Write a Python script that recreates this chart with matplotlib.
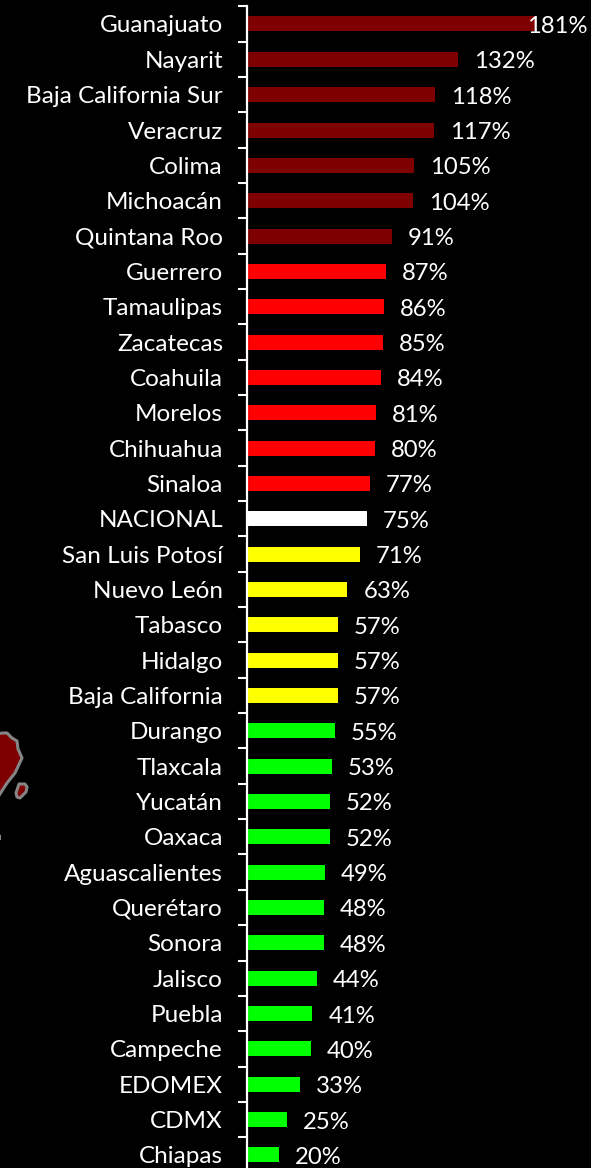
import matplotlib
matplotlib.use("Agg")
import matplotlib.pyplot as plt
from matplotlib.patches import Polygon

states = ["Guanajuato", "Nayarit", "Baja California Sur", "Veracruz", "Colima", "Michoacán",
          "Quintana Roo", "Guerrero", "Tamaulipas", "Zacatecas", "Coahuila", "Morelos",
          "Chihuahua", "Sinaloa", "NACIONAL", "San Luis Potosí", "Nuevo León", "Tabasco",
          "Hidalgo", "Baja California", "Durango", "Tlaxcala", "Yucatán", "Oaxaca",
          "Aguascalientes", "Querétaro", "Sonora", "Jalisco", "Puebla", "Campeche",
          "EDOMEX", "CDMX", "Chiapas"]
values = [181, 132, 118, 117, 105, 104, 91, 87, 86, 85, 84, 81, 80, 77, 75, 71, 63, 57, 57, 57,
          55, 53, 52, 52, 49, 48, 48, 44, 41, 40, 33, 25, 20]
groups = ["d"] * 7 + ["r"] * 7 + ["w"] + ["y"] * 5 + ["g"] * 13
palette = {"d": "#7f0000", "r": "#ff0000", "w": "#ffffff", "y": "#ffff00", "g": "#00ff00"}

W, H = 591, 1168
X0, PX_PER_PCT = 247.0, 1.595
Y0, ROW = 24.0, 35.34
FONT = 17.5
VALUE_FONT = 17.2

plt.rcParams["font.family"] = ["Lato", "DejaVu Sans"]
fig = plt.figure(figsize=(W / 100, H / 100), dpi=100, facecolor="black")

# Background map fragment, pixel coordinates
bg = fig.add_axes([0, 0, 1, 1], zorder=0)
bg.set_xlim(0, W); bg.set_ylim(H, 0); bg.axis("off")
map_main = [(-5, 734), (3, 733), (7, 733), (12, 738), (17, 741), (18, 749), (22, 758), (15, 773),
            (7, 783), (-2, 797), (-5, 797)]
map_island = [(19, 784), (25, 784), (27, 787), (26, 792), (20, 798), (17, 797), (16, 793)]
for pts in (map_main, map_island):
    bg.add_patch(Polygon(pts, closed=True, facecolor="#7f0000", edgecolor="#858585", lw=2.2, joinstyle="round"))
bg.add_patch(Polygon([(-2, 834), (1, 835), (1, 840), (-2, 840)], closed=True, facecolor="#858585", edgecolor="none"))

ax = fig.add_axes([0, 0, 1, 1], zorder=1)
ax.patch.set_alpha(0)
ax.set_xlim(-X0 / PX_PER_PCT, (W - X0) / PX_PER_PCT)
ax.set_ylim((H - Y0) / ROW, -Y0 / ROW)

rows = list(range(len(states)))
ax.barh(rows, values, height=15 / ROW, color=[palette[g] for g in groups], zorder=2)

for s in ("top", "right", "bottom"):
    ax.spines[s].set_visible(False)
ax.spines["left"].set_position(("data", 0))
ax.spines["left"].set_color("white")
ax.spines["left"].set_linewidth(1.6)
ax.spines["left"].set_bounds(-0.5, (H - Y0) / ROW)
ax.xaxis.set_visible(False)

ax.set_yticks(rows)
ax.set_yticklabels(states, color="white", fontsize=FONT)
ax.tick_params(axis="y", which="major", length=0, pad=17.3)
ax.set_yticks([r - 0.5 for r in rows], minor=True)
ax.tick_params(axis="y", which="minor", length=6.5, width=1.5, color="white", left=True)

for r, v in zip(rows, values):
    offset = -9 if v == 181 else 16
    ax.annotate(f"{v}%", xy=(v, r), xytext=(offset * 0.72, -1.8), textcoords="offset points",
                color="white", fontsize=VALUE_FONT, va="center", ha="left", zorder=3)

fig.savefig("out.png", dpi=100, facecolor="black")
